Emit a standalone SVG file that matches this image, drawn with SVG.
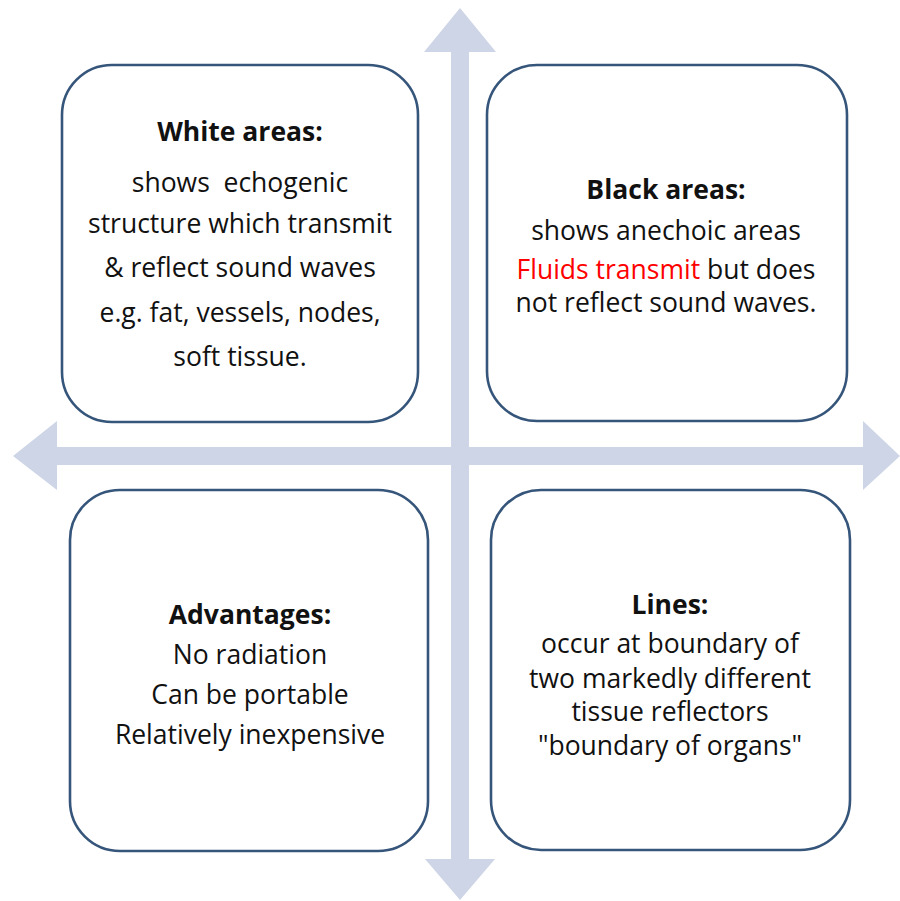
<svg xmlns="http://www.w3.org/2000/svg" width="900" height="901" viewBox="0 0 900 901">
<style>
.arrow{fill:#cdd5e6;stroke:none}
.box{fill:#ffffff;stroke:#36557a;stroke-width:2.6}
text{font-family:"Open Sans","Noto Sans","Liberation Sans",sans-serif;font-size:26.5px;fill:#111111;text-anchor:middle}
.h{font-weight:bold}
.red{fill:#ff0000}
.pre{white-space:pre}
</style>
<rect width="900" height="901" fill="#ffffff"/>
<g id="connectors">
<polygon class="arrow" points="451,52 424,52 460,8 496,52 469,52 469,859 495,859 460,900 425,859 451,859"/>
<polygon class="arrow" points="57,447 57,421 13,456 57,490 57,465 863,465 863,490 900,456 863,421 863,447"/>
</g>
<g id="white-areas">
<rect class="box" x="62" y="65" width="356" height="357" rx="50"/>
<text x="240" y="141" class="h">White areas:</text>
<text x="240" y="192" class="pre">shows  echogenic</text>
<text x="240" y="233">structure which transmit</text>
<text x="240" y="277">&amp; reflect sound waves</text>
<text x="240" y="322">e.g. fat, vessels, nodes,</text>
<text x="240" y="366">soft tissue.</text>
</g>
<g id="black-areas">
<rect class="box" x="487" y="65" width="360" height="356" rx="50"/>
<text x="666" y="199" class="h">Black areas:</text>
<text x="666" y="240">shows anechoic areas</text>
<text x="666" y="279"><tspan class="red">Fluids transmit</tspan> but does</text>
<text x="666" y="312">not reflect sound waves.</text>
</g>
<g id="advantages">
<rect class="box" x="70" y="490" width="358" height="361" rx="50"/>
<text x="250" y="624" class="h">Advantages:</text>
<text x="250" y="664">No radiation</text>
<text x="250" y="704">Can be portable</text>
<text x="250" y="744">Relatively inexpensive</text>
</g>
<g id="lines">
<rect class="box" x="491" y="490" width="359" height="360" rx="50"/>
<text x="670" y="614" class="h">Lines:</text>
<text x="670" y="653">occur at boundary of</text>
<text x="670" y="688">two markedly different</text>
<text x="670" y="721">tissue reflectors</text>
<text x="670" y="755">"boundary of organs"</text>
</g>
</svg>
